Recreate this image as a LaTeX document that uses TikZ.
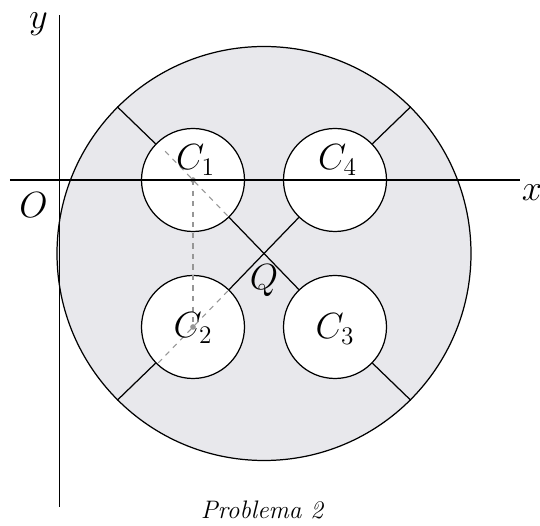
\documentclass[tikz,border=0pt]{standalone}
\usepackage{tikz}
\usetikzlibrary{positioning, calc}
\definecolor{plategray}{RGB}{232, 232, 236}
\definecolor{pencilgray}{RGB}{150, 150, 150}

\tikzset{
    plate/.style={circle, draw, line width=0.7pt, fill=plategray, inner sep=0pt, minimum size=8.28cm},
    hole/.style={circle, draw, line width=0.7pt, fill=white, inner sep=0pt, minimum size=2.06cm},
    rib/.style={line width=0.7pt},
    axisline/.style={line width=0.8pt},
    pencil/.style={pencilgray, line width=0.6pt, dashed},
    lbl/.style={inner sep=1pt, font=\huge}
}

\begin{document}
\begin{tikzpicture}
    \useasboundingbox (-1.19,-6.92) rectangle (9.61,3.6);

    % centres
    \coordinate (O) at (0,0);
    \coordinate (Q) at (4.09,-1.47);
    \coordinate (C1) at (2.67,0);
    \coordinate (C4) at (5.51,0);
    \coordinate (C2) at (2.67,-2.94);
    \coordinate (C3) at (5.51,-2.94);

    % plate and holes
    \node[plate] (big) at (Q) {};
    \node[hole] (c1) at (C1) {};
    \node[hole] (c2) at (C2) {};
    \node[hole] (c3) at (C3) {};
    \node[hole] (c4) at (C4) {};

    % ribs along the diagonals
    \draw[rib] (big.135) -- (c1);
    \draw[rib] (big.45) -- (c4);
    \draw[rib] (big.225) -- (c2);
    \draw[rib] (big.315) -- (c3);
    \draw[rib] (c1) -- (c3);
    \draw[rib] (c4) -- (c2);

    % pencil marks
    \draw[pencil] (C1) -- (C2);
    \draw[pencil] ($(C1)!-0.8cm!(Q)$) -- ($(C1)!1cm!(Q)$);
    \draw[pencil] ($(C2)!-1cm!(Q)$) -- ($(C2)!1cm!(Q)$);
    \fill[pencilgray] (C1) circle (1.6pt);
    \fill[pencilgray] (C2) circle (1.6pt);

    % axes
    \coordinate (xl) at (-0.99,0);
    \coordinate (xr) at (9.21,0);
    \coordinate (yt) at (0,3.3);
    \coordinate (yb) at (0,-6.54);
    \draw[axisline] (xl) -- (xr);
    \draw[axisline] (yb) -- (yt);

    % labels
    \node[lbl] (ylab) at (-0.42,3.12) {$y$};
    \node[lbl] (xlab) at (9.45,-0.26) {$x$};
    \node[lbl] (olab) at (-0.52,-0.5) {$O$};
    \node[lbl] (l1) at ($(C1)+(0.05,0.4)$) {$C_1$};
    \node[lbl] (l4) at ($(C4)+(0.05,0.4)$) {$C_4$};
    \node[lbl] (l2) at ($(C2)+(0,-0.02)$) {$C_2$};
    \node[lbl] (l3) at ($(C3)+(0,-0.04)$) {$C_3$};
    \node[lbl, below=0.18cm of Q] (qlab) {$Q$};
    \node[font=\Large\itshape] (cap) at (4.05,-6.6) {Problema 2};
\end{tikzpicture}
\end{document}
